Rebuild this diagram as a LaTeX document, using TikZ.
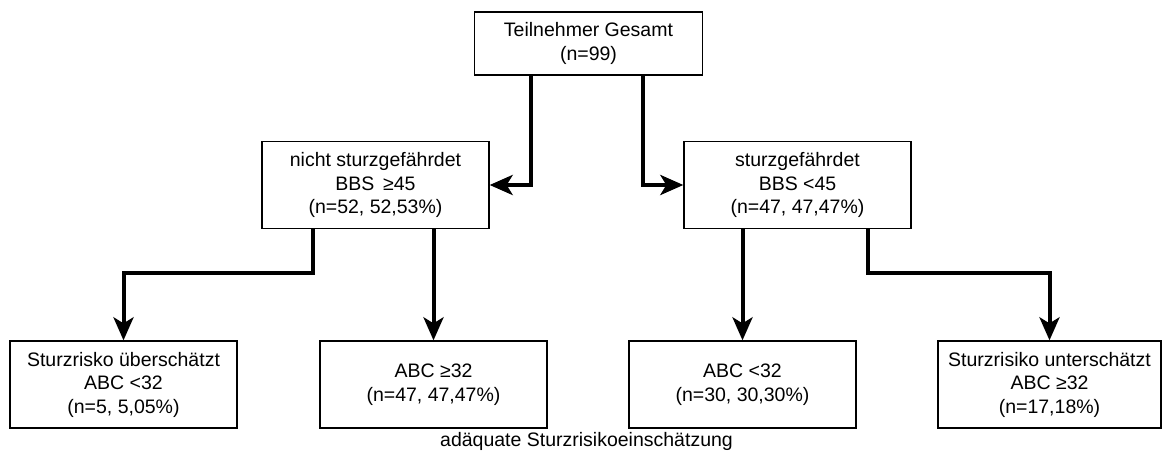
\documentclass[tikz,border=0pt]{standalone}
\usepackage{fontspec}
\setmainfont{Liberation Sans}
\usetikzlibrary{arrows.meta}

\begin{document}
\begin{tikzpicture}[x=1pt,y=-1pt,
        txt/.style={font=\fontsize{19.5}{23.5}\selectfont},
        box/.style={txt,draw,line width=1.3pt,minimum width=227pt,
            minimum height=87pt,align=center,inner sep=0pt},
        arr/.style={line width=4pt,-{Stealth[length=23pt,width=20pt,inset=6pt]}}]
\useasboundingbox (0,0) rectangle (1162,452);

\node[box,minimum width=228pt,minimum height=63pt] (gesamt) at (588.5,43.5) {Teilnehmer Gesamt\\(n=99)};

\node[box] (nicht) at (375.5,185) {nicht sturzgefährdet\\BBS \,≥45\\(n=52, 52,53\%)};
\node[box] (sturz) at (797.5,185) {sturzgefährdet\\BBS <45\\(n=47, 47,47\%)};

\node[box] (ueber) at (123.5,384.5) {Sturzrisko überschätzt\\ABC <32\\(n=5, 5,05\%)};
\node[box] (adaeqA) at (433.5,384.5) {ABC ≥32\\(n=47, 47,47\%)};
\node[box] (adaeqB) at (742.5,384.5) {ABC <32\\(n=30, 30,30\%)};
\node[box,minimum width=223pt] (unter) at (1049.5,384.5) {Sturzrisiko unterschätzt\\ABC ≥32\\(n=17,18\%)};

\node[txt,anchor=base] (caption) at (586.5,446) {adäquate Sturzrisikoeinschätzung};

\draw[arr] ([xshift=-57.5pt]gesamt.south) |- (nicht.east);
\draw[arr] ([xshift=54.5pt]gesamt.south) |- (sturz.west);

\draw[arr] ([xshift=-62.5pt]nicht.south) -- ++(0,44) -| (ueber.north);
\draw[arr] (nicht.south -| adaeqA.north) -- (adaeqA.north);

\draw[arr] (sturz.south -| adaeqB.north) -- (adaeqB.north);
\draw[arr] ([xshift=70.5pt]sturz.south) -- ++(0,44) -| (unter.north);
\end{tikzpicture}
\end{document}
